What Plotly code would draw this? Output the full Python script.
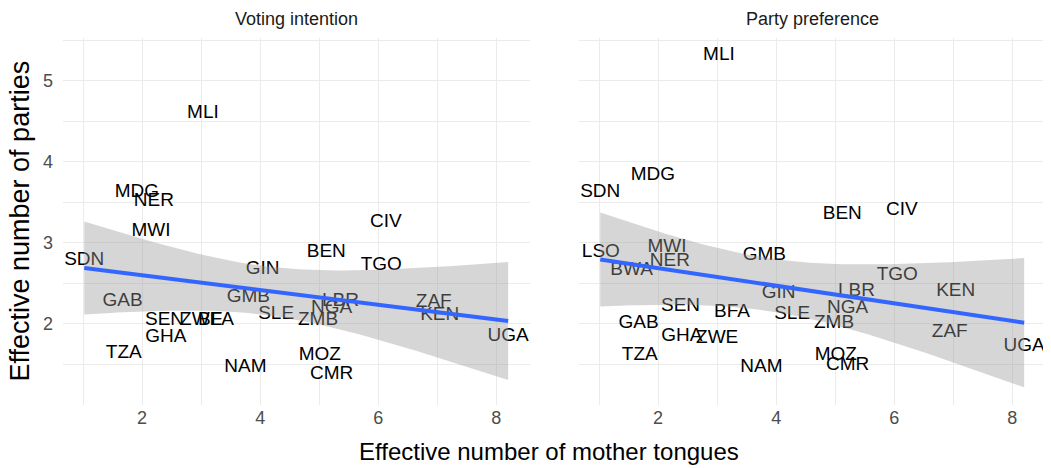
import numpy as np
import plotly.graph_objects as go

# ---- data ----
countries = ["SDN", "LSO", "BWA", "MDG", "MWI", "NER", "GAB", "TZA", "SEN", "GHA",
             "ZWE", "BFA", "MLI", "NAM", "GMB", "GIN", "SLE", "ZMB", "MOZ", "BEN",
             "NGA", "CMR", "LBR", "TGO", "CIV", "ZAF", "KEN", "UGA"]
mother_tongues = [1.02, 1.03, 1.55, 1.91, 2.15, 2.20, 1.67, 1.69, 2.38, 2.40,
                  3.00, 3.25, 3.03, 3.75, 3.80, 4.04, 4.27, 4.98, 5.01, 5.12,
                  5.21, 5.21, 5.36, 6.05, 6.13, 6.94, 7.04, 8.20]
voting_intention = [2.79, None, None, 3.62, 3.14, 3.52, 2.28, 1.64, 2.04, 1.84,
                    2.04, 2.05, 4.60, 1.46, 2.33, 2.68, 2.12, 2.04, 1.62, 2.89,
                    2.19, 1.38, 2.28, 2.72, 3.26, 2.27, 2.11, 1.85]
party_preference = [3.62, 2.88, 2.66, 3.83, 2.95, 2.78, 2.01, 1.62, 2.22, 1.85,
                    1.82, 2.14, 5.32, 1.47, 2.85, 2.38, 2.12, 2.01, 1.62, 3.36,
                    2.19, 1.49, 2.40, 2.60, 3.40, 1.90, 2.40, 1.72]
panel_titles = ["Voting intention", "Party preference"]
x_ticks = [2, 4, 6, 8]
y_ticks = [2, 3, 4, 5]

T_CRIT = {22: 2.0739, 23: 2.0687, 24: 2.0639, 25: 2.0595, 26: 2.0555, 27: 2.0518}

FONT = "Liberation Sans, Arial, Helvetica, sans-serif"

def lm_fit(x, y):
    x = np.asarray(x, float); y = np.asarray(y, float)
    n = len(x)
    X = np.column_stack([np.ones(n), x])
    beta, *_ = np.linalg.lstsq(X, y, rcond=None)
    resid = y - X @ beta
    s2 = resid @ resid / (n - 2)
    cov = s2 * np.linalg.inv(X.T @ X)
    xs = np.linspace(x.min(), x.max(), 80)
    Xs = np.column_stack([np.ones(80), xs])
    fit = Xs @ beta
    se = np.sqrt(np.einsum("ij,jk,ik->i", Xs, cov, Xs))
    t = T_CRIT[n - 2]
    return xs, fit, fit - t * se, fit + t * se

fig = go.Figure()
series = [voting_intention, party_preference]
axes = [("x", "y"), ("x2", "y2")]
for (xa, ya), vals in zip(axes, series):
    xs = [m for m, v in zip(mother_tongues, vals) if v is not None]
    ys = [v for v in vals if v is not None]
    labs = [c for c, v in zip(countries, vals) if v is not None]
    fig.add_trace(go.Scatter(x=xs, y=ys, text=labs, mode="text",
                             textfont=dict(family=FONT, size=19, color="#000000"),
                             textposition="middle center", xaxis=xa, yaxis=ya,
                             cliponaxis=False,
                             showlegend=False, hoverinfo="skip"))
    gx, fit, lo, hi = lm_fit(xs, ys)
    fig.add_trace(go.Scatter(x=np.concatenate([gx, gx[::-1]]),
                             y=np.concatenate([hi, lo[::-1]]),
                             fill="toself", fillcolor="rgba(153,153,153,0.4)",
                             line=dict(width=0), mode="lines", xaxis=xa, yaxis=ya,
                             showlegend=False, hoverinfo="skip"))
    fig.add_trace(go.Scatter(x=gx, y=fit, mode="lines",
                             line=dict(color="#3366FF", width=4), xaxis=xa, yaxis=ya,
                             showlegend=False, hoverinfo="skip"))

W = 983.0
H = 367.0
dom1 = [0, 467 / W]
dom2 = [516 / W, 1]
xcommon = dict(range=[0.66, 8.57], tickvals=x_ticks, showgrid=True, gridcolor="#EBEBEB",
               gridwidth=1.4, zeroline=False, showline=False, ticks="",
               tickfont=dict(family=FONT, size=18, color="#4D4D4D"),
               minor=dict(showgrid=True, gridcolor="#EBEBEB", gridwidth=0.7, dtick=1, tick0=1))
ycommon = dict(range=[1.0, 5.53], tickvals=y_ticks, showgrid=True, gridcolor="#EBEBEB",
               gridwidth=1.4, zeroline=False, showline=False, ticks="",
               tickfont=dict(family=FONT, size=18, color="#4D4D4D"),
               minor=dict(showgrid=True, gridcolor="#EBEBEB", gridwidth=0.7, dtick=0.5, tick0=1.5))

# page body has an 8px margin: shrink figure so the plot area lands where the reference has it
fig.update_layout(
    width=1043, height=460,
    margin=dict(l=55, r=5, t=30, b=63),
    paper_bgcolor="white", plot_bgcolor="white",
    xaxis=dict(domain=dom1, anchor="y", **xcommon),
    xaxis2=dict(domain=dom2, anchor="y2", **xcommon),
    yaxis=dict(domain=[0, 1], anchor="x", ticklabelstandoff=9, **ycommon),
    yaxis2=dict(domain=[0, 1], anchor="x2", showticklabels=False,
                **{k: v for k, v in ycommon.items() if k != "tickfont"}),
)

ann = []
for dom, title in zip([dom1, dom2], panel_titles):
    ann.append(dict(text=title, x=(dom[0] + dom[1]) / 2, y=1 + 19 / H,
                    xref="paper", yref="paper", xanchor="center", yanchor="middle",
                    showarrow=False, font=dict(family=FONT, size=18, color="#1A1A1A")))
ann.append(dict(text="Effective number of mother tongues", x=0.5 - 6 / W, y=-46 / H,
                xref="paper", yref="paper", xanchor="center", yanchor="middle",
                showarrow=False, font=dict(family=FONT, size=24, color="#000000")))
ann.append(dict(text="Effective number of parties", x=-44 / W, y=0.5,
                xref="paper", yref="paper", xanchor="center", yanchor="middle",
                textangle=-90, showarrow=False,
                font=dict(family=FONT, size=27, color="#000000")))
fig.update_layout(annotations=ann)

fig.write_html("out.html")
